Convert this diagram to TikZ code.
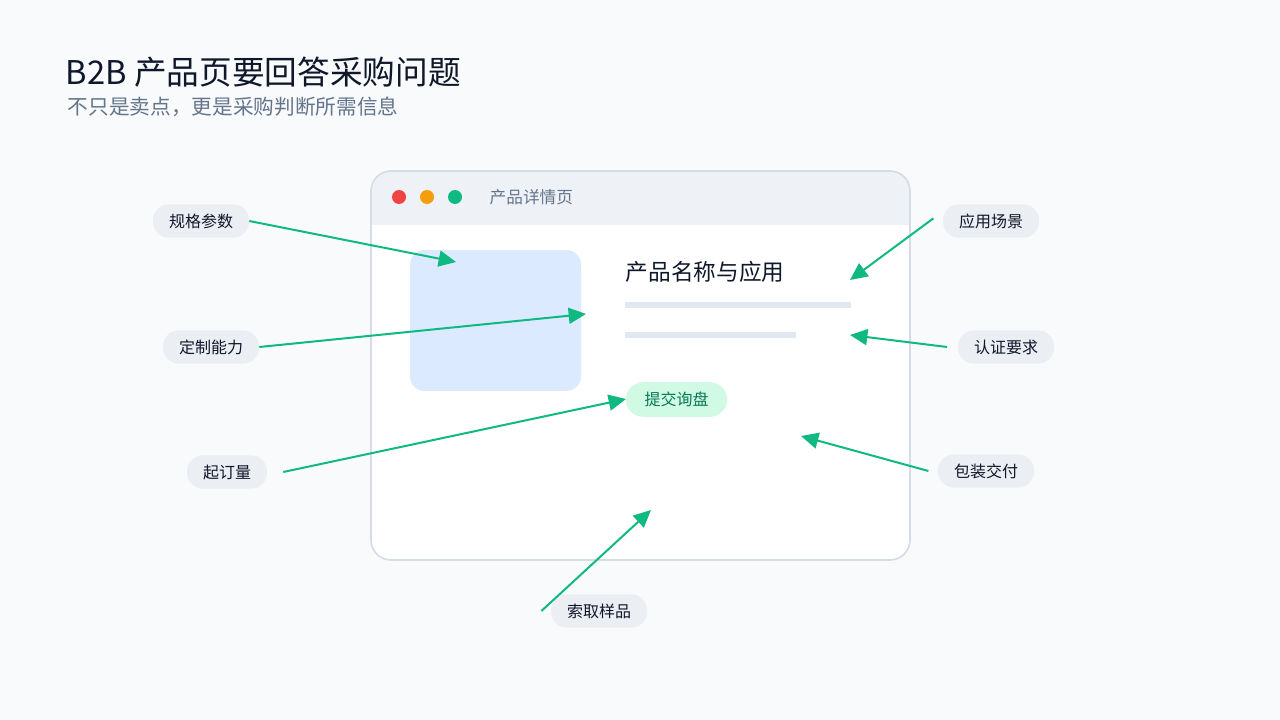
\documentclass[tikz,border=0pt]{standalone}
\usepackage{fontspec}
\setmainfont{Noto Sans CJK SC}
\usetikzlibrary{arrows.meta,positioning}
\definecolor{bgc}{HTML}{F8FAFC}
\definecolor{ink}{HTML}{0F172A}
\definecolor{mute}{HTML}{64748B}
\definecolor{frame}{HTML}{D5DCE6}
\definecolor{head}{HTML}{EEF2F7}
\definecolor{pill}{HTML}{EBEEF3}
\definecolor{imgc}{HTML}{DBEAFE}
\definecolor{barc}{HTML}{E2E8F0}
\definecolor{grn}{HTML}{10B981}
\definecolor{mint}{HTML}{D1FAE5}
\definecolor{dgrn}{HTML}{047857}
\definecolor{dred}{HTML}{EF4444}
\definecolor{damb}{HTML}{F59E0B}
\tikzset{
  tag/.style={fill=pill,rounded corners=12pt,minimum height=25pt,inner xsep=12pt,
    font=\fontsize{12}{14}\selectfont,text=ink},
  callout/.style={draw=grn,line width=1.5pt,-{Triangle[length=13pt,width=12pt]}},
  dot/.style={circle,minimum size=10.5pt,inner sep=0pt}
}
\begin{document}
\begin{tikzpicture}[x=0.75pt,y=-0.75pt]
  \fill[bgc] (0,0) rectangle (1280,720);
  \useasboundingbox (0,0) rectangle (1280,720);
  % title
  \node[anchor=west,text=ink,font=\fontsize{24.5}{28}\selectfont] (title) at (61,72) {B2B 产品页要回答采购问题};
  \node[anchor=west,text=mute,font=\fontsize{15.5}{18}\selectfont] (sub) at (63,107) {不只是卖点，更是采购判断所需信息};
  % window
  \begin{scope}
    \clip[rounded corners=15pt] (371,171) rectangle (910,560);
    \fill[white] (371,171) rectangle (910,560);
    \fill[head] (371,171) rectangle (910,225);
  \end{scope}
  \draw[frame,line width=1.2pt,rounded corners=15pt] (371,171) rectangle (910,560);
  \node[dot,fill=dred] (d1) at (399,197) {};
  \node[dot,fill=damb] (d2) at (427,197) {};
  \node[dot,fill=grn] (d3) at (455,197) {};
  \node[anchor=west,text=mute,font=\fontsize{12.5}{14}\selectfont] (wt) at (485,197) {产品详情页};
  % page content
  \fill[imgc,rounded corners=11pt] (410,250) rectangle (581,391);
  \node[anchor=west,text=ink,font=\fontsize{17}{20}\selectfont] (name) at (621,272) {产品名称与应用};
  \draw[barc,line width=4pt] (625,305) -- (851,305);
  \draw[barc,line width=4pt] (625,335) -- (796,335);
  \node[fill=mint,rounded corners=13pt,minimum height=26pt,minimum width=76pt,text=dgrn,
    font=\fontsize{12}{14}\selectfont] (btn) at (676.5,399.5) {提交询盘};
  % tags
  \node[tag] (spec) at (201,221) {规格参数};
  \node[tag] (cust) at (211,347) {定制能力};
  \node[tag] (moq) at (227,472) {起订量};
  \node[tag] (samp) at (599,611) {索取样品};
  \node[tag] (app) at (991,221) {应用场景};
  \node[tag] (cert) at (1006,347) {认证要求};
  \node[tag] (pack) at (986,471) {包装交付};
  % arrow ends
  \coordinate (tspec) at (456,262);
  \coordinate (tcust) at (586,314);
  \coordinate (tmoq) at (626,399);
  \coordinate (tsamp) at (651,510);
  \coordinate (tapp) at (850,280);
  \coordinate (tcert) at (850,335);
  \coordinate (tpack) at (801,436);
  \draw[callout] (spec.east) -- (tspec);
  \draw[callout] (cust.east) -- (tcust);
  \draw[callout] ([xshift=12pt]moq.east) -- (tmoq);
  \draw[callout] ([xshift=-7pt]samp.west) -- (tsamp);
  \draw[callout] ([xshift=-7pt,yshift=2pt]app.west) -- (tapp);
  \draw[callout] ([xshift=-8pt]cert.west) -- (tcert);
  \draw[callout] ([xshift=-7pt]pack.west) -- (tpack);
\end{tikzpicture}
\end{document}
